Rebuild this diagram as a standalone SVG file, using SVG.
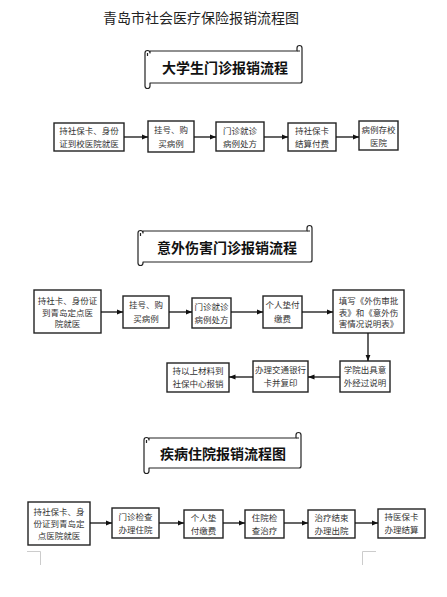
<svg xmlns="http://www.w3.org/2000/svg" width="447" height="597" viewBox="0 0 447 597">
<style>
.title{font-family:"Noto Sans CJK SC","Noto Sans",sans-serif;font-size:14px;fill:#222}
.ban{font-family:"Noto Sans CJK SC","Noto Sans",sans-serif;font-size:14px;font-weight:bold;fill:#111}
.box{fill:#fff;stroke:#222;stroke-width:1.4}
.t{font-family:"Noto Sans CJK SC","Noto Sans",sans-serif;font-size:8.5px;fill:#333;text-anchor:middle}
.scroll{fill:#fff;stroke:#222;stroke-width:1.2;stroke-linejoin:round}
.edge{stroke:#111;stroke-width:1.3;fill:none;marker-end:url(#ah)}
.corner{stroke:#ccc;stroke-width:1;fill:none}
</style>
<defs>
<marker id="ah" viewBox="0 0 10 10" refX="10" refY="5" markerWidth="5" markerHeight="5" orient="auto" markerUnits="strokeWidth">
<path d="M0,1 L10,5 L0,9 z" fill="#111"/>
</marker>
</defs>
<rect width="447" height="597" fill="#fff"/>
<text class="title" x="201" y="23" text-anchor="middle">青岛市社会医疗保险报销流程图</text>

<g id="banner1">
<path class="scroll" d="M150,51 H297 V48 a2.5,2.5 0 0 1 5,0 V81 a2,2 0 0 1 -2,2 H150 V86 a2.5,2.5 0 0 1 -5,0 V53 a2.5,2.5 0 0 1 5,0 Z"/>
<path class="scroll" d="M297,51 h3 M147.5,53 v3" />
<text class="ban" x="225" y="73" text-anchor="middle">大学生门诊报销流程</text>
</g>

<g id="n1_1"><rect class="box" x="54" y="123" width="70" height="28"/><text class="t" x="89" y="134">持社保卡、身份</text><text class="t" x="89" y="147">证到校医院就医</text></g>
<g id="n1_2"><rect class="box" x="148" y="121" width="46" height="31"/><text class="t" x="171" y="133">挂号、购</text><text class="t" x="171" y="147">买病例</text></g>
<g id="n1_3"><rect class="box" x="216" y="122" width="48" height="29"/><text class="t" x="240" y="134">门诊就诊</text><text class="t" x="240" y="147">病例处方</text></g>
<g id="n1_4"><rect class="box" x="288" y="123" width="48" height="28"/><text class="t" x="312" y="134">持社保卡</text><text class="t" x="312" y="147">结算付费</text></g>
<g id="n1_5"><rect class="box" x="359" y="121" width="39" height="29"/><text class="t" x="378.5" y="133">病例存校</text><text class="t" x="378.5" y="146">医院</text></g>

<g id="banner2">
<path class="scroll" d="M143,231 H307 V228 a2.5,2.5 0 0 1 5,0 V260 a2,2 0 0 1 -2,2 H143 V263 a2.5,2.5 0 0 1 -5,0 V233 a2.5,2.5 0 0 1 5,0 Z"/>
<path class="scroll" d="M307,231 h3 M140.5,233 v3" />
<text class="ban" x="227" y="253" text-anchor="middle">意外伤害门诊报销流程</text>
</g>

<g id="n2_1"><rect class="box" x="34" y="290" width="67" height="43"/><text class="t" x="67.5" y="304">持社卡、身份证</text><text class="t" x="67.5" y="315.5">到青岛定点医</text><text class="t" x="67.5" y="327">院就医</text></g>
<g id="n2_2"><rect class="box" x="123" y="296" width="46" height="32"/><text class="t" x="146" y="308">挂号、购</text><text class="t" x="146" y="322">买病例</text></g>
<g id="n2_3"><rect class="box" x="192" y="298" width="39" height="30"/><text class="t" x="211.5" y="310">门诊就诊</text><text class="t" x="211.5" y="323">病例处方</text></g>
<g id="n2_4"><rect class="box" x="263" y="296" width="39" height="32"/><text class="t" x="282.5" y="308">个人垫付</text><text class="t" x="282.5" y="322">缴费</text></g>
<g id="n2_5"><rect class="box" x="333" y="290" width="71" height="43"/><text class="t" x="368.5" y="304">填写《外伤审批</text><text class="t" x="368.5" y="315.5">表》和《意外伤</text><text class="t" x="368.5" y="327">害情况说明表》</text></g>
<g id="n2_6"><rect class="box" x="340" y="361" width="50" height="31"/><text class="t" x="365" y="373">学院出具意</text><text class="t" x="365" y="386">外经过说明</text></g>
<g id="n2_7"><rect class="box" x="253" y="361" width="55" height="31"/><text class="t" x="280.5" y="373">办理交通银行</text><text class="t" x="280.5" y="386">卡并复印</text></g>
<g id="n2_8"><rect class="box" x="167" y="363" width="62" height="29"/><text class="t" x="198" y="374">持以上材料到</text><text class="t" x="198" y="387">社保中心报销</text></g>

<g id="banner3">
<path class="scroll" d="M149,438 H296 V435 a2.5,2.5 0 0 1 5,0 V466 a2,2 0 0 1 -2,2 H149 V471 a2.5,2.5 0 0 1 -5,0 V440 a2.5,2.5 0 0 1 5,0 Z"/>
<path class="scroll" d="M296,438 h3 M146.5,440 v3" />
<text class="ban" x="223" y="459" text-anchor="middle">疾病住院报销流程图</text>
</g>

<g id="n3_1"><rect class="box" x="28" y="502" width="62" height="43"/><text class="t" x="59" y="515">持社保卡、身</text><text class="t" x="59" y="527">份证到青岛定</text><text class="t" x="59" y="539">点医院就医</text></g>
<g id="n3_2"><rect class="box" x="112" y="508" width="47" height="30"/><text class="t" x="135.5" y="520">门诊检查</text><text class="t" x="135.5" y="533">办理住院</text></g>
<g id="n3_3"><rect class="box" x="184" y="510" width="39" height="28"/><text class="t" x="203.5" y="521">个人垫</text><text class="t" x="203.5" y="534">付缴费</text></g>
<g id="n3_4"><rect class="box" x="245" y="510" width="39" height="28"/><text class="t" x="264.5" y="521">住院检</text><text class="t" x="264.5" y="534">查治疗</text></g>
<g id="n3_5"><rect class="box" x="308" y="510" width="47" height="28"/><text class="t" x="331.5" y="521">治疗结束</text><text class="t" x="331.5" y="534">办理出院</text></g>
<g id="n3_6"><rect class="box" x="378" y="509" width="47" height="29"/><text class="t" x="401.5" y="520">持医保卡</text><text class="t" x="401.5" y="533">办理结算</text></g>

<g id="connectors">
<line class="edge" x1="124" y1="137" x2="148" y2="137"/>
<line class="edge" x1="194" y1="137" x2="216" y2="137"/>
<line class="edge" x1="264" y1="137" x2="288" y2="137"/>
<line class="edge" x1="336" y1="137" x2="359" y2="137"/>
<line class="edge" x1="101" y1="312" x2="123" y2="312"/>
<line class="edge" x1="169" y1="312" x2="192" y2="312"/>
<line class="edge" x1="231" y1="312" x2="263" y2="312"/>
<line class="edge" x1="302" y1="312" x2="333" y2="312"/>
<line class="edge" x1="368" y1="333" x2="368" y2="361"/>
<line class="edge" x1="340" y1="377" x2="308" y2="377"/>
<line class="edge" x1="253" y1="377" x2="229" y2="377"/>
<line class="edge" x1="90" y1="523" x2="112" y2="523"/>
<line class="edge" x1="159" y1="523" x2="184" y2="523"/>
<line class="edge" x1="223" y1="523" x2="245" y2="523"/>
<line class="edge" x1="284" y1="523" x2="308" y2="523"/>
<line class="edge" x1="355" y1="523" x2="378" y2="523"/>
</g>

<path class="corner" d="M27,551.5 H40.5 V565"/>
<path class="corner" d="M362.5,565 V551.5 H376"/>
</svg>
